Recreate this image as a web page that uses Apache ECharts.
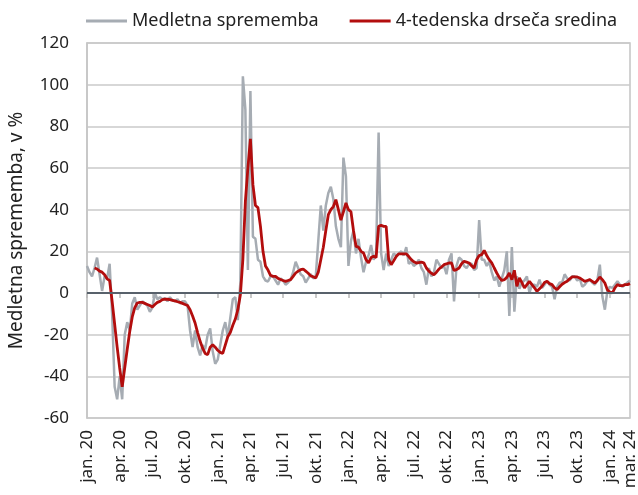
<!DOCTYPE html>
<html>
<head>
<meta charset="utf-8">
<script src="https://cdn.jsdelivr.net/npm/echarts@6/dist/echarts.min.js"></script>
<style>
  html, body { margin: 0; padding: 0; background: #fff; }
  #chart { width: 638px; height: 495px; }
</style>
</head>
<body>
<div id="chart"></div>
<script>
// quarter labels on the x axis and the week index each one sits on
var tickLabels = ["jan. 20", "apr. 20", "jul. 20", "okt. 20", "jan. 21", "apr. 21", "jul. 21", "okt. 21",
  "jan. 22", "apr. 22", "jul. 22", "okt. 22", "jan. 23", "apr. 23", "jul. 23", "okt. 23", "jan. 24", "mar. 24"];
var tickWeeks = [0, 13, 26, 39, 52, 65, 78, 91, 104, 117, 130, 143, 156, 169, 182, 195, 208, 216];

// weekly year-on-year change, %
var medletna = [
  13, 10, 8, 12, 17, 9, 1, 8, 7, 14,
  -10, -45, -51, -40, -51, -20, -14, -18, -5, -2,
  -8, -6, -4, -5, -6, -9, -7, 0, -3, -2,
  -3, -2.5, -4, -2, -3.5, -4, -3, -5, -4, -4,
  -6, -18, -26, -18, -26, -30, -25, -27, -20, -17,
  -28, -34, -32, -25, -18, -14, -21, -12, -3, -2,
  -13, 5, 104, 88, 11, 97, 27, 26, 16, 15,
  8, 6, 5.5, 8, 8, 6, 4, 7, 6, 4,
  5, 6.5, 10, 15, 12, 9, 8, 5, 7, 9,
  7, 8, 25, 42, 30, 42, 48, 51, 45, 32,
  26, 22, 65, 56, 13, 25, 30, 19, 26, 17,
  10, 15, 18, 23, 16, 19, 77, 19, 11, 19,
  13, 16, 19, 18, 19, 20, 18, 22, 14, 15,
  13, 14, 16, 12, 10, 4, 12, 8, 10, 16,
  14, 12, 13, 9, 16, 19, -4, 13, 17, 16,
  13, 12, 14, 14, 11, 12, 35, 16, 16, 13,
  15, 10, 6, 8, 3, 7, 11, 20, -11, 22,
  -9, 8, 2, 5, 6, 8, 0, 4, 4, 3,
  6.4, 2.4, 4, 5.6, 4, 3, -3, 3, 5, 5,
  9, 7, 6, 8, 8, 6, 7, 3, 4, 5.6,
  6.4, 5, 4, 6, 13.6, -1.6, -8, 1, 3, 2.4,
  4, 5.6, 4, 3, 4, 5, 6
];

// 4-week moving average, %
var drseca = [
  null, null, null, 12, 11.5, 10.5, 10, 8.8, 6.8, 6,
  -4, -15, -26, -36, -45, -36, -27, -18.5, -11.5, -7,
  -4.8, -4.5, -4.5, -5, -5.5, -6, -6.7, -5.5, -4.5, -4,
  -3.2, -2.9, -3, -3.2, -3.5, -3.8, -4.2, -4.5, -5, -5.5,
  -6, -8, -11, -14.4, -19, -23.2, -26.5, -29, -29.6, -26,
  -24.8, -26, -27.5, -28.5, -29, -25, -21, -19, -15.5, -12.5,
  -8, -1, 16, 44, 60, 74, 52, 42, 41, 32,
  20, 13, 11, 8.5, 8, 8, 7, 6.5, 6, 5.6,
  6, 6.4, 8, 9.6, 10.5, 11.2, 11.5, 10.5, 9.5, 8.2,
  7.8, 7.2, 10, 16, 22, 30, 37.6, 40, 41.5, 44.8,
  40, 35, 39, 43.2, 40, 39, 30, 22.4, 22, 20,
  19.2, 16, 14.4, 17, 17.6, 17, 32, 32.5, 32, 32,
  16, 13.6, 15.5, 17.5, 18.8, 18.8, 18.8, 18.8, 17.5, 16,
  15, 14.4, 14.6, 14.8, 14.5, 12, 10.5, 9.5, 8.8, 10,
  11.5, 12.5, 13.6, 14, 14.4, 14.4, 10.8, 11.2, 12, 14,
  15.2, 14.8, 14.4, 13, 12, 16, 18, 18.4, 20.4, 18,
  16, 14.5, 12, 9.6, 7.5, 6, 6.4, 7.5, 9.6, 6.4,
  10.9, 3.2, 7.2, 5, 2.4, 4, 5.6, 4, 2.5, 0.8,
  2, 3.2, 5, 5.6, 4.5, 4, 2.5, 1.6, 3, 4.2,
  5, 5.6, 6.8, 7.7, 7.7, 7.7, 7.2, 6.4, 5.6, 6,
  6.4, 5.6, 4.8, 6, 7.7, 6.4, 4.8, 1.5, 0.5, 0,
  2.5, 4, 3.5, 3.5, 4, 4, 4.5
];

var weeks = [];
for (var i = 0; i < medletna.length; i++) weeks.push(String(i));

var font = "Noto Sans";
var myChart = echarts.init(document.getElementById("chart"));

function isTick(idx) {
  return tickWeeks.indexOf(idx) !== -1;
}

var option = {
  animation: false,
  textStyle: { fontFamily: font },
  legend: {
    left: 86,
    top: 12,
    padding: 0,
    icon: "rect",
    itemWidth: 41,
    itemHeight: 3,
    itemGap: 31,
    textStyle: { fontSize: 18, color: "#222", fontFamily: font },
    data: ["Medletna sprememba", "4-tedenska drseča sredina"]
  },
  grid: {
    left: 87,
    right: 8,
    top: 43,
    bottom: 77,
    outerBoundsMode: "none",
    containLabel: false,
    show: true,
    borderColor: "#c4c4c4",
    borderWidth: 1.5,
    backgroundColor: "transparent"
  },
  xAxis: {
    type: "category",
    boundaryGap: false,
    data: weeks,
    axisLine: { lineStyle: { color: "#c4c4c4", width: 1.5 } },
    axisTick: {
      interval: function (idx) { return isTick(idx); },
      length: 5,
      lineStyle: { color: "#b8b8b8", width: 1.5 }
    },
    axisLabel: {
      interval: function (idx) { return isTick(idx); },
      rotate: 90,
      margin: 12,
      fontSize: 17,
      color: "#222",
      fontFamily: font,
      hideOverlap: false,
      formatter: function (val, idx) {
        return tickLabels[tickWeeks.indexOf(idx)];
      }
    },
    splitLine: { show: false }
  },
  yAxis: {
    type: "value",
    min: -60,
    max: 120,
    interval: 20,
    name: "Medletna sprememba, v %",
    nameLocation: "middle",
    nameRotate: 90,
    nameGap: 61,
    nameTextStyle: { fontSize: 19, color: "#222", fontFamily: font },
    axisLine: { show: true, lineStyle: { color: "#c4c4c4", width: 1.5 } },
    axisTick: { show: false },
    axisLabel: { fontSize: 17, color: "#222", margin: 18, fontFamily: font },
    splitLine: { lineStyle: { color: "#cacaca", width: 1.5 } }
  },
  series: [
    {
      name: "Medletna sprememba",
      type: "line",
      data: medletna,
      symbol: "none",
      z: 2,
      lineStyle: { color: "#a6acb3", width: 2.5 },
      itemStyle: { color: "#a6acb3" },
      markLine: {
        silent: true,
        symbol: "none",
        label: { show: false },
        lineStyle: { color: "#58616b", width: 2, type: "solid" },
        data: [{ yAxis: 0 }]
      }
    },
    {
      name: "4-tedenska drseča sredina",
      type: "line",
      data: drseca,
      symbol: "none",
      z: 3,
      lineStyle: { color: "#b30d0d", width: 2.8 },
      itemStyle: { color: "#b30d0d" }
    }
  ]
};

myChart.setOption(option);
</script>
</body>
</html>
